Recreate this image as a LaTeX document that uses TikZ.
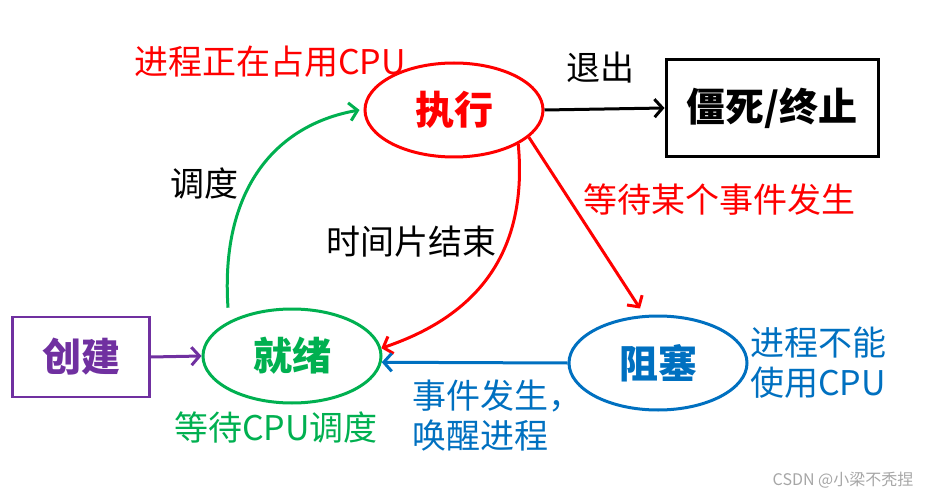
\documentclass[tikz,border=0pt]{standalone}
\usepackage{fontspec}
\setmainfont{Noto Sans CJK SC}
\usetikzlibrary{arrows.meta,shapes.geometric}
\definecolor{RunRed}{RGB}{255,0,0}
\definecolor{ReadyGreen}{RGB}{0,176,80}
\definecolor{BlockBlue}{RGB}{0,112,192}
\definecolor{NewPurple}{RGB}{112,48,160}

\begin{document}
\begin{tikzpicture}[x=1pt,y=-1pt,>={Straight Barb[length=8pt,width=18pt]},
  state/.style={ellipse,draw,line width=3pt,inner sep=0pt,minimum width=178pt,minimum height=94pt,font=\fontsize{39}{39}\selectfont\bfseries},
  endbox/.style={rectangle,draw,inner sep=0pt,font=\fontsize{39}{39}\selectfont\bfseries},
  note/.style={inner sep=0pt,font=\fontsize{34}{40}\selectfont},
  trans/.style={line width=3pt,->}]
\useasboundingbox (0,0) rectangle (925,494);
% states
\node[state,draw=RunRed,text=RunRed] (run) at (454,110) {执行};
\node[state,draw=ReadyGreen,text=ReadyGreen] (ready) at (292,356) {就绪};
\node[state,draw=BlockBlue,text=BlockBlue] (block) at (658,363) {阻塞};
\node[endbox,line width=3pt,minimum width=212pt,minimum height=97pt] (dead) at (772,108) {僵死/终止};
\node[endbox,draw=NewPurple,text=NewPurple,line width=2.2pt,minimum width=137pt,minimum height=80pt] (create) at (81,357) {创建};
% transitions
\draw[trans,NewPurple] (create.east) -- (ready.west);
\draw[trans,ReadyGreen] ([yshift=14pt]ready.north west) .. controls (220,190) and (275,125) .. ([xshift=-4pt]run.west);
\draw[trans,RunRed] (run.-28) .. controls (528,250) and (480,315) .. (ready.5);
\draw[trans,RunRed] (run.-20) -- ([xshift=-18pt,yshift=6pt]block.north);
\draw[trans,black] (run.east) -- (dead.west);
\draw[trans,BlockBlue] (block.west) -- (ready.-4);
% labels
\node[note,text=RunRed] (runnote) at (270,62) {进程正在占用CPU};
\node[note] (exitlbl) at (600,68) {退出};
\node[note,text=RunRed] (waitlbl) at (719,200) {等待某个事件发生};
\node[note] (schedlbl) at (204,183) {调度};
\node[note] (slicelbl) at (411,242) {时间片结束};
\node[note,text=BlockBlue,anchor=west,align=left] (wakelbl) at (412,416) {事件发生，\\唤醒进程};
\node[note,text=BlockBlue,anchor=west,align=left] (blocknote) at (750,363) {进程不能\\使用CPU};
\node[note,text=ReadyGreen] (readynote) at (276,427) {等待CPU调度};
\node[inner sep=0pt,text=black!35,font=\fontsize{16}{16}\selectfont] (mark) at (843,480) {CSDN @小梁不秃捏};
\end{tikzpicture}
\end{document}
